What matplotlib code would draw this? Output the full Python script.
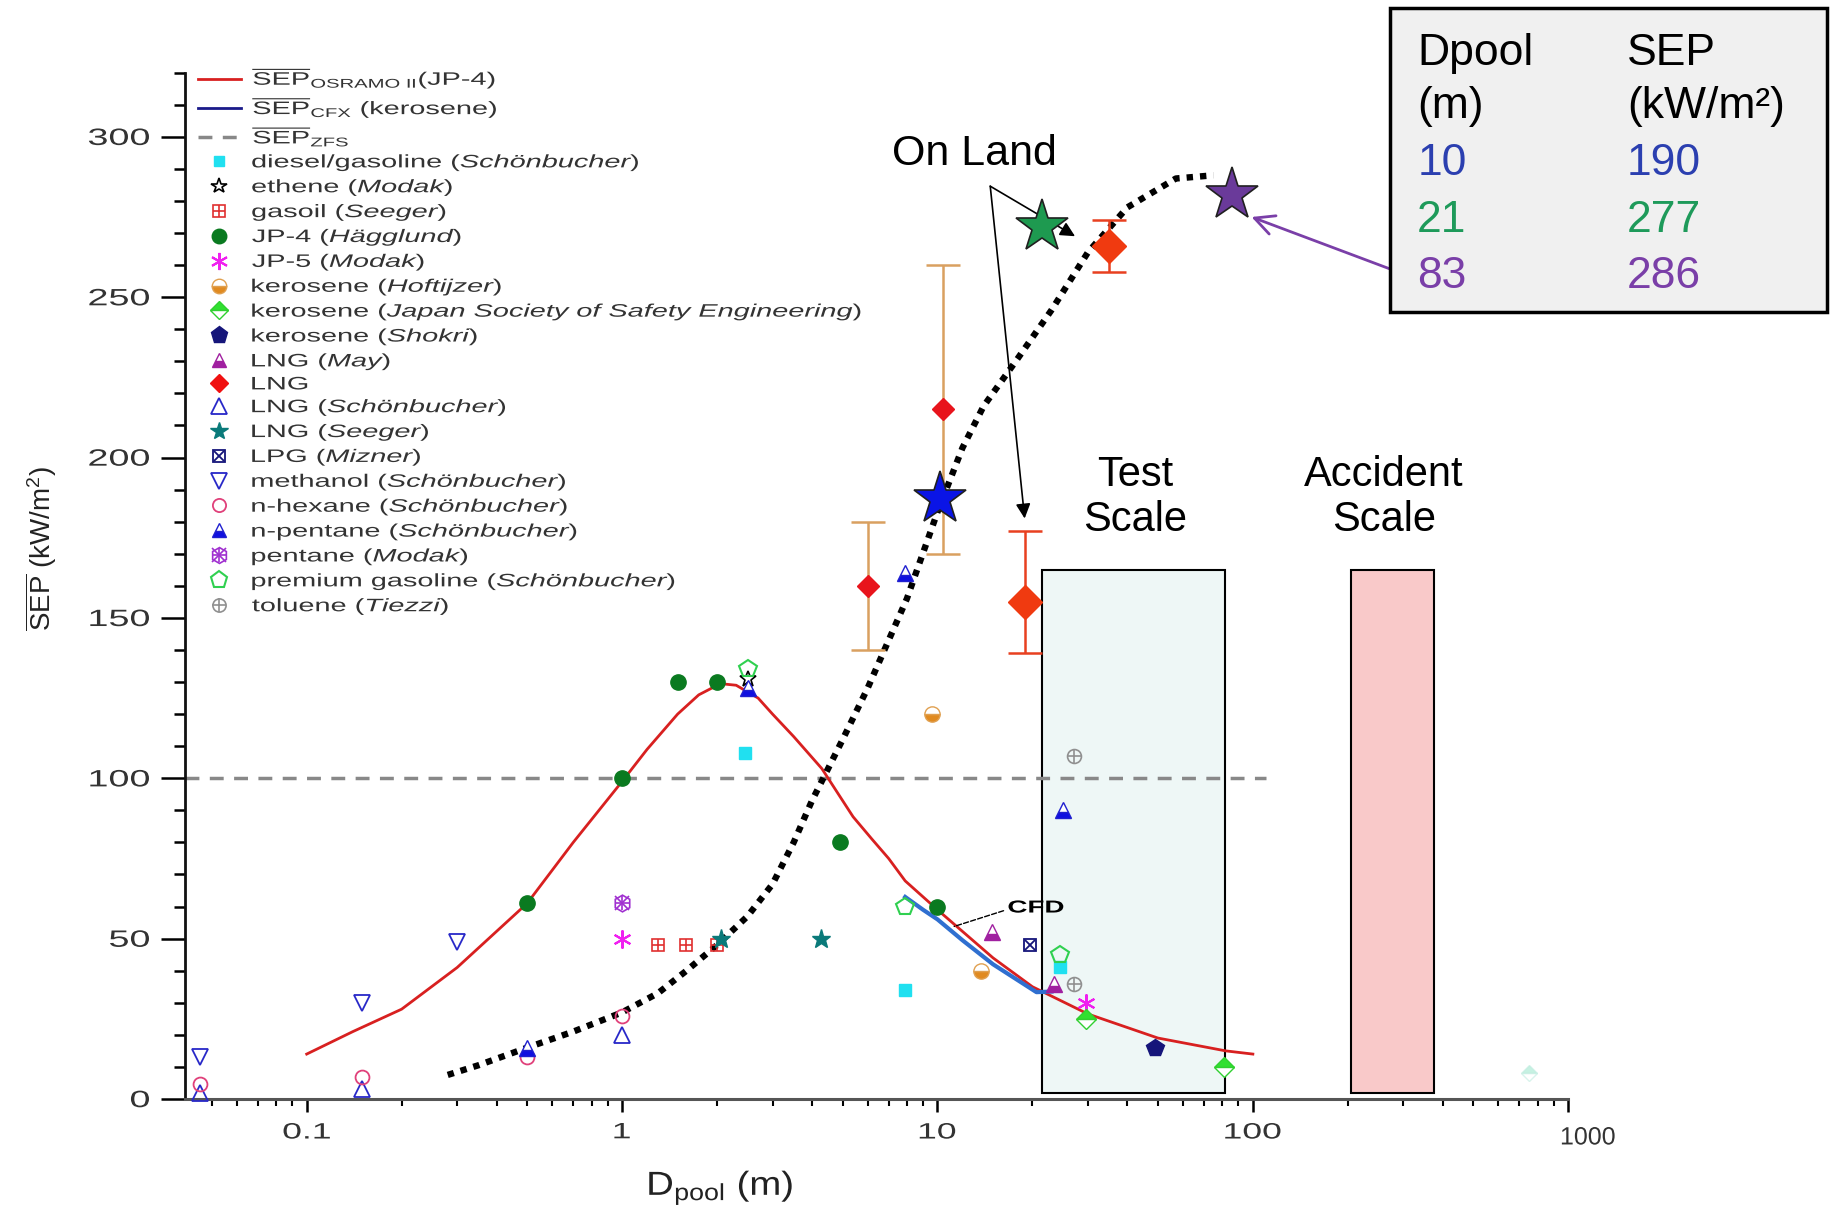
import matplotlib
matplotlib.use("Agg")
import matplotlib.pyplot as plt
from matplotlib.lines import Line2D
from matplotlib.patches import Rectangle, PathPatch
from matplotlib.legend_handler import HandlerTuple
from matplotlib.ticker import MultipleLocator, FixedLocator
from matplotlib.textpath import TextPath
from matplotlib.font_manager import FontProperties
from matplotlib.transforms import Affine2D

plt.rcParams['font.family'] = ['Liberation Sans', 'DejaVu Sans']
plt.rcParams['mathtext.fontset'] = 'custom'
plt.rcParams['mathtext.rm'] = 'Liberation Sans'
plt.rcParams['mathtext.it'] = 'Liberation Sans:italic'
plt.rcParams['mathtext.bf'] = 'Liberation Sans:bold'

# ======================================================
# Curves
# ======================================================
osramo_x = [0.1, 0.14, 0.2, 0.3, 0.5, 0.7, 1.0, 1.2, 1.5, 1.75, 2.05, 2.3, 2.7, 3.0, 3.5,
            4.3, 5.4, 6.2, 7.0, 7.9, 10, 15, 20, 30, 50, 82, 100]
osramo_y = [14, 21, 28, 41, 61, 80, 99, 109, 120, 126, 129.5, 129, 125, 120, 113,
            103, 88, 81, 75, 68, 59, 44, 35, 26.5, 19, 15, 14]

cfx_x = [7.9, 9.0, 10, 12, 15, 18, 20.6, 23]
cfx_y = [63, 59, 56, 49.5, 42, 37, 33.3, 33.5]

zfs_x = [0.041, 110]
zfs_y = [100, 100]

trend_x = [0.28, 0.35, 0.5, 0.7, 1.0, 1.3, 1.6, 2.0, 2.5, 3.0, 3.5, 4.0, 4.5,
           5, 6, 7, 8, 10, 12, 14, 18, 23, 30, 40, 57, 75]
trend_y = [7.5, 10.5, 16, 21, 27, 33, 40, 48, 57, 67, 80, 93, 103,
           112, 128, 143, 156, 183, 203, 216, 231, 246, 264, 278, 287, 288]

# ======================================================
# Experimental points
# ======================================================
diesel_x, diesel_y = [2.45, 7.9, 24.5], [108, 34, 41]
ethene_x, ethene_y = [2.5], [131]
gasoil_x, gasoil_y = [1.3, 1.6, 2.0], [48, 48, 48]
jp4_x, jp4_y = [0.5, 1.0, 1.5, 2.0, 4.9, 10], [61, 100, 130, 130, 80, 60]
jp5_x, jp5_y = [1.0, 29.5], [50, 30]
kero_hof_x, kero_hof_y = [9.6, 13.7], [120, 40]
kero_jap_x, kero_jap_y = [29.5, 81], [25, 10]
kero_faint_x, kero_faint_y = [750], [8]
kero_shokri_x, kero_shokri_y = [49], [16]
lng_may_x, lng_may_y = [14.9, 23.4], [52, 36]
lng_x = [6.0, 10.4, 19, 35]
lng_y = [160, 215, 155, 266]
lng_lo = [140, 170, 139, 258]
lng_hi = [180, 260, 177, 274]
lng_schon_x, lng_schon_y = [0.046, 0.15, 1.0], [2, 3, 20]
lng_seeger_x, lng_seeger_y = [2.06, 4.27], [50, 50]
lpg_x, lpg_y = [19.6], [48]
methanol_x, methanol_y = [0.046, 0.15, 0.3], [13, 30, 49]
hexane_x, hexane_y = [0.046, 0.15, 0.5, 1.0], [4.7, 7, 13, 26]
npentane_x, npentane_y = [0.5, 2.5, 7.9, 25], [16, 128, 164, 90]
pentane_x, pentane_y = [1.0], [61]
premium_x, premium_y = [2.5, 7.9, 24.5], [134, 60, 45]
toluene_x, toluene_y = [27, 27], [107, 36]

# big stars (on land) and the table values
star_x = [10.2, 21.5, 86]
star_y = [187, 272, 282]
star_colors = ['#0a14e6', '#1e9a50', '#6a3a9a']
table_d = ['10', '21', '83']
table_sep = ['190', '277', '286']
table_colors = ['#2b3fb0', '#1e9a5a', '#7a3fa8']

# scale boxes
test_scale = (21.5, 81.5)
accident_scale = (205, 375)
scale_top = 165

y_ticks = [0, 50, 100, 150, 200, 250, 300]
x_ticks = [0.1, 1, 10, 100]
x_tick_labels = ['0.1', '1', '10', '100']

# ======================================================
# Figure
# ======================================================
W, H = 1831, 1211
fig = plt.figure(figsize=(W / 100, H / 100), dpi=100)
ax = fig.add_axes([0.1008, 0.0925, 0.7557, 0.8475])

ax.set_xscale('log')
ax.set_xlim(0.041, 1000)
ax.set_ylim(0, 320)

STRETCH = 1.6


def stext(x, y, s, size, sx=STRETCH, color='#333333', ha='left', va='baseline',
          weight='normal', rot=0):
    # horizontally stretched text, drawn as a path in pixel coordinates
    prop = FontProperties(family='Liberation Sans', weight=weight)
    path = TextPath((0, 0), s, size=size * 100 / 72, prop=prop)
    ext = path.get_extents()
    dx = {'left': -ext.x0, 'center': -(ext.x0 + ext.x1) / 2, 'right': -ext.x1}[ha]
    dy = {'baseline': 0, 'center': -(ext.y0 + ext.y1) / 2, 'top': -ext.y1}[va]
    tr = Affine2D().translate(dx, dy).rotate_deg(rot).scale(sx, 1).translate(x, y)
    fig.add_artist(PathPatch(path, transform=tr, facecolor=color, lw=0))


ax.add_patch(Rectangle((test_scale[0], 2), test_scale[1] - test_scale[0], scale_top - 2,
                       facecolor='#eef7f6', edgecolor='black', lw=1.5, zorder=1))
ax.add_patch(Rectangle((accident_scale[0], 2), accident_scale[1] - accident_scale[0], scale_top - 2,
                       facecolor='#f9c9c9', edgecolor='black', lw=1.5, zorder=1))

h_osr, = ax.plot(osramo_x, osramo_y, color='#d82020', lw=2, zorder=3)
h_cfx, = ax.plot(cfx_x, cfx_y, color='#2f6fd0', lw=3, zorder=3)
h_zfs, = ax.plot(zfs_x, zfs_y, color='#888888', lw=2.5, ls=(0, (4, 3)), zorder=2)
h_cfx_leg = Line2D([], [], color='#1a1a8a', lw=2)
ax.plot(trend_x, trend_y, color='black', lw=4.6, ls=(0, (1, 1.1)), zorder=4)


def pts(x, y, specs):
    hs = []
    for s in specs:
        kw = dict(ls='none', ms=11, clip_on=False, zorder=5)
        kw.update(s)
        h, = ax.plot(x, y, **kw)
        hs.append(h)
    return tuple(hs) if len(hs) > 1 else hs[0]


h_diesel = pts(diesel_x, diesel_y, [dict(marker='s', color='#20e0f0', ms=8)])
h_ethene = pts(ethene_x, ethene_y, [dict(marker='*', mfc='none', mec='black', ms=12, mew=1.2)])
h_gasoil = pts(gasoil_x, gasoil_y, [dict(marker='s', mfc='none', mec='#e03030', ms=9, mew=1.2),
                                    dict(marker='+', color='#e03030', ms=9, mew=1.2)])
h_jp4 = pts(jp4_x, jp4_y, [dict(marker='o', color='#0a7a20', ms=11)])
h_jp5 = pts(jp5_x, jp5_y, [dict(marker=(6, 2, 0), color='#f020f0', ms=13, mew=1.5)])
h_hof = pts(kero_hof_x, kero_hof_y, [dict(marker='o', fillstyle='bottom', mfc='#e08a20',
                                          mfcalt='white', mec='#e0a050', ms=11)])
h_jap = pts(kero_jap_x, kero_jap_y, [dict(marker='D', fillstyle='top', mfc='#30e030',
                                          mfcalt='white', mec='#30d030', ms=10)])
pts(kero_faint_x, kero_faint_y, [dict(marker='D', fillstyle='top', mfc='#a0e8d0',
                                      mfcalt='white', mec='#c0ece0', ms=8, alpha=0.6)])
h_shokri = pts(kero_shokri_x, kero_shokri_y, [dict(marker='p', color='#15157a', ms=13)])
h_may = pts(lng_may_x, lng_may_y, [dict(marker='^', fillstyle='bottom', mfc='#a020a0',
                                        mfcalt='white', mec='#a020a0', ms=11)])

yerr = [[y - lo for y, lo in zip(lng_y, lng_lo)], [hi - y for y, hi in zip(lng_y, lng_hi)]]
err_colors = ['#d9a060', '#d9a060', '#e84020', '#e84020']
for i in range(len(lng_x)):
    ax.errorbar([lng_x[i]], [lng_y[i]], yerr=[[yerr[0][i]], [yerr[1][i]]], fmt='none',
                ecolor=err_colors[i], elinewidth=1.8, capsize=12, capthick=1.8, zorder=4)
ax.plot(lng_x[:2], lng_y[:2], ls='none', marker='D', color='#e8141c', ms=11, zorder=5)
ax.plot(lng_x[2:], lng_y[2:], ls='none', marker='D', color='#f03a10', ms=17, zorder=5)
h_lng = Line2D([], [], ls='none', marker='D', color='#f01010', ms=10)

h_schon = pts(lng_schon_x, lng_schon_y, [dict(marker='^', mfc='none', mec='#2828c8', ms=12, mew=1.3)])
h_seeger = pts(lng_seeger_x, lng_seeger_y, [dict(marker='*', color='#0a7a7a', ms=14)])
h_lpg = pts(lpg_x, lpg_y, [dict(marker='s', mfc='none', mec='#15157a', ms=9, mew=1.3),
                           dict(marker='x', color='#15157a', ms=7, mew=1.3)])
h_meth = pts(methanol_x, methanol_y, [dict(marker='v', mfc='none', mec='#2828c8', ms=12, mew=1.3)])
h_hex = pts(hexane_x, hexane_y, [dict(marker='o', mfc='none', mec='#e0407a', ms=10, mew=1.3)])
h_npent = pts(npentane_x, npentane_y, [dict(marker='^', fillstyle='bottom', mfc='#1010e0',
                                            mfcalt='white', mec='#2020d0', ms=11)])
h_pent = pts(pentane_x, pentane_y, [dict(marker='h', mfc='none', mec='#a030d0', ms=12, mew=1.2),
                                    dict(marker='x', color='#a030d0', ms=10, mew=1.2),
                                    dict(marker='+', color='#a030d0', ms=10, mew=1.2)])
h_prem = pts(premium_x, premium_y, [dict(marker='p', mfc='none', mec='#30d050', ms=13, mew=1.5)])
h_tol = pts(toluene_x, toluene_y, [dict(marker='o', mfc='none', mec='#909090', ms=10, mew=1.2),
                                   dict(marker='+', color='#909090', ms=10, mew=1.2)])

# big stars
for sx_, sy_, c in zip(star_x, star_y, star_colors):
    ax.plot([sx_], [sy_], ls='none', marker='*', ms=40, mfc=c, mec='#202020', mew=1.2,
            zorder=7, clip_on=False)

# ======================================================
# Annotations
# ======================================================
ax.text(13.1, 294.5, 'On Land', fontsize=31, ha='center', va='center', zorder=8)
for tx, ty in [(27.3, 269), (18.9, 181)]:
    ax.annotate('', xy=(tx, ty), xytext=(14.7, 284.6),
                arrowprops=dict(arrowstyle='-|>', color='black', lw=1.2, mutation_scale=22,
                                shrinkA=0, shrinkB=0), zorder=6)

ax.text(42.2, 187.5, 'Test\nScale', fontsize=30, ha='center', va='center', linespacing=1.15)
ax.text(260, 187.5, 'Accident\nScale', fontsize=30, ha='center', va='center', linespacing=1.15)

ax.annotate('', xy=(11.3, 53.8), xytext=(16.2, 58.7),
            arrowprops=dict(arrowstyle='-', ls='--', lw=1, color='black', shrinkA=0, shrinkB=0))
cx, cy = ax.transData.transform((16.8, 60))
stext(cx, cy, 'CFD', 12.5, color='black', va='center', weight='bold')

ax.annotate('', xy=(99, 275), xycoords='data', xytext=(0.759, 0.778),
            textcoords='figure fraction', annotation_clip=False,
            arrowprops=dict(arrowstyle='->', color='#7a3fa8', lw=2, mutation_scale=35,
                            shrinkA=0, shrinkB=0))

# table box
fig.patches.append(Rectangle((0.759, 0.742), 0.239, 0.251, transform=fig.transFigure,
                             facecolor='#f0f0f0', edgecolor='black', lw=2.5, zorder=0))
col1, col2 = 0.774, 0.8886
fig.text(col1, 0.9463, 'Dpool', fontsize=32, va='baseline')
fig.text(col1, 0.9026, '(m)', fontsize=32, va='baseline')
fig.text(col2, 0.9463, 'SEP', fontsize=32, va='baseline')
fig.text(col2, 0.9026, '(kW/m²)', fontsize=32, va='baseline')
for i, yb in enumerate([0.8555, 0.8084, 0.7622]):
    fig.text(col1, yb, table_d[i], fontsize=32, va='baseline', color=table_colors[i])
    fig.text(col2, yb, table_sep[i], fontsize=32, va='baseline', color=table_colors[i])

# ======================================================
# Axes
# ======================================================
ax.spines['top'].set_visible(False)
ax.spines['right'].set_visible(False)
ax.spines['left'].set_linewidth(2)
ax.spines['left'].set_color('#111111')
ax.spines['bottom'].set_linewidth(2.2)
ax.spines['bottom'].set_color('#555555')

ax.yaxis.set_major_locator(FixedLocator(y_ticks))
ax.yaxis.set_minor_locator(MultipleLocator(10))
ax.set_xticks(x_ticks + [1000])
ax.tick_params(axis='y', which='major', length=17, width=1.8, direction='out', labelleft=False)
ax.tick_params(axis='y', which='minor', length=8, width=1.8, direction='out')
ax.tick_params(axis='x', which='major', length=9, width=1.8, direction='out', labelbottom=False)
ax.tick_params(axis='x', which='minor', length=5, width=1.5, direction='out')

# tick labels (stretched like the original export)
for v in y_ticks:
    _, yd = ax.transData.transform((1, v))
    stext(149, yd, str(v), 17, ha='right', va='center')
for v, s in zip(x_ticks, x_tick_labels):
    xd, _ = ax.transData.transform((v, 0))
    stext(xd, H - 1123, s, 16, ha='center', va='top')
xd, _ = ax.transData.transform((1000, 0))
stext(xd + 20, H - 1127, '1000', 18, sx=1.0, ha='center', va='top')

fig.text(41 / W, 1 - 549 / H, r'$\overline{\mathrm{SEP}}$ (kW/m$^2$)', fontsize=20,
         rotation=90, ha='center', va='center', color='#222222')
stext(617 * 1.1677, H - 1195, r'D$_{\mathrm{pool}}$ (m)', 24, sx=1.15, color='#222222',
      ha='center', va='baseline')

# ======================================================
# Legend
# ======================================================


def it(s):
    return r'$\mathit{' + s.replace(' ', r'\ ') + '}$'


handles = [h_osr, h_cfx_leg, h_zfs, h_diesel, h_ethene, h_gasoil, h_jp4, h_jp5, h_hof,
           h_jap, h_shokri, h_may, h_lng, h_schon, h_seeger, h_lpg, h_meth, h_hex,
           h_npent, h_pent, h_prem, h_tol]
labels = [
    r'$\overline{\mathrm{SEP}}_{\mathrm{OSRAMO\ II}}$(JP-4)',
    r'$\overline{\mathrm{SEP}}_{\mathrm{CFX}}$ (kerosene)',
    r'$\overline{\mathrm{SEP}}_{\mathrm{ZFS}}$',
    'diesel/gasoline ' + it('(Schönbucher)'),
    'ethene ' + it('(Modak)'),
    'gasoil ' + it('(Seeger)'),
    'JP-4 ' + it('(Hägglund)'),
    'JP-5 ' + it('(Modak)'),
    'kerosene ' + it('(Hoftijzer)'),
    'kerosene ' + it('(Japan Society of Safety Engineering)'),
    'kerosene ' + it('(Shokri)'),
    'LNG ' + it('(May)'),
    'LNG',
    'LNG ' + it('(Schönbucher)'),
    'LNG ' + it('(Seeger)'),
    'LPG ' + it('(Mizner)'),
    'methanol ' + it('(Schönbucher)'),
    'n-hexane ' + it('(Schönbucher)'),
    'n-pentane ' + it('(Schönbucher)'),
    'pentane ' + it('(Modak)'),
    'premium gasoline ' + it('(Schönbucher)'),
    'toluene ' + it('(Tiezzi)'),
]
LEG_FS = 13
leg = ax.legend(handles, labels, loc='upper left', bbox_to_anchor=(0.108, 0.946),
                bbox_transform=fig.transFigure, frameon=False, fontsize=LEG_FS,
                handlelength=2.4, handletextpad=0.62, labelspacing=0.215, borderpad=0,
                borderaxespad=0, markerscale=0.95,
                handler_map={tuple: HandlerTuple(ndivide=1, pad=0)})
for t in leg.get_texts():
    t.set_alpha(0)

fig.canvas.draw()
renderer = fig.canvas.get_renderer()
for t, lab in zip(leg.get_texts(), labels):
    bb = t.get_window_extent(renderer)
    prop = t.get_fontproperties()
    _, _, d = renderer.get_text_width_height_descent(lab, prop, ismath=('$' in lab))
    _, _, d_lp = renderer.get_text_width_height_descent('lp', prop, ismath=False)
    stext(bb.x0, bb.y0 + max(d, d_lp), lab, LEG_FS, color='#333333')

fig.savefig('out.png', dpi=100)
